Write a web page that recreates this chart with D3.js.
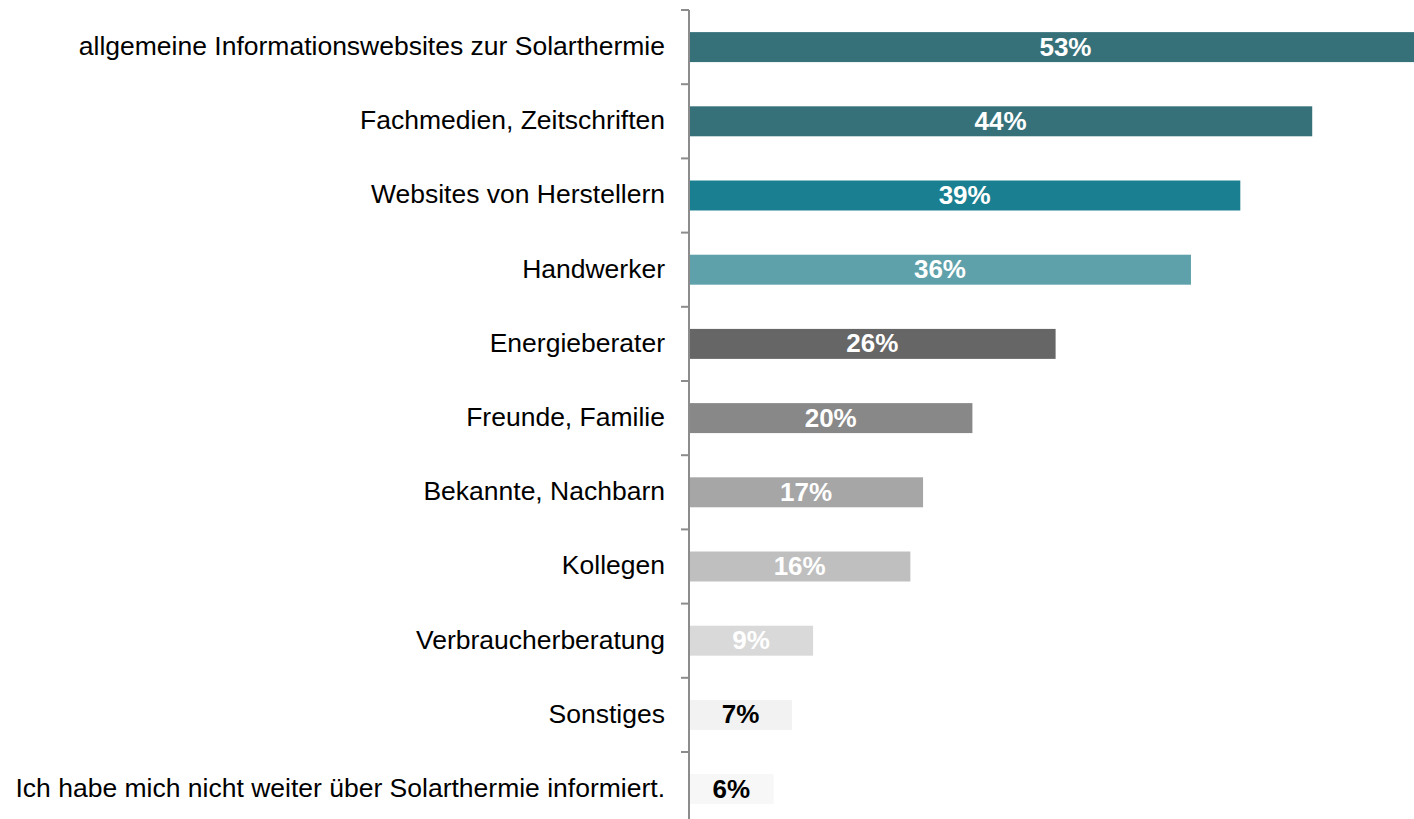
<!DOCTYPE html>
<html>
<head>
<meta charset="utf-8">
<script src="https://cdn.jsdelivr.net/npm/d3@7"></script>
<style>
  body { margin: 0; background: #fff; overflow: hidden; }
</style>
</head>
<body>
<div id="chart"></div>
<script>
// categories, top to bottom
var categories = [
    'allgemeine Informationswebsites zur Solarthermie',
    'Fachmedien, Zeitschriften',
    'Websites von Herstellern',
    'Handwerker',
    'Energieberater',
    'Freunde, Familie',
    'Bekannte, Nachbarn',
    'Kollegen',
    'Verbraucherberatung',
    'Sonstiges',
    'Ich habe mich nicht weiter über Solarthermie informiert.'
];
// share in percent (bar lengths)
var values = [53.4, 44.2, 39.1, 35.6, 26.0, 20.1, 16.6, 15.7, 8.8, 7.3, 6.0];
var colors = ['#36717a', '#36717a', '#1a7f91', '#5fa1aa', '#666666', '#888888',
              '#a6a6a6', '#bfbfbf', '#d9d9d9', '#f2f2f2', '#f7f7f7'];
var labelColors = ['#fff', '#fff', '#fff', '#fff', '#fff', '#fff',
                   '#fff', '#fff', '#fff', '#000', '#000'];

var width = 1414, height = 819;
var margin = {left: 689, top: 10};

var svg = d3.select('#chart').append('svg')
    .attr('width', width)
    .attr('height', height)
    .style('font-family', '"Liberation Sans", Arial, sans-serif');

var x = d3.scaleLinear()
    .domain([0, 1])
    .range([margin.left, margin.left + 14.1]);

var y = d3.scaleBand()
    .domain(categories)
    .range([margin.top, margin.top + 74.2 * categories.length])
    .paddingInner(0.596)
    .paddingOuter(0.298);

var bars = svg.selectAll('.bar')
    .data(categories)
    .enter().append('g')
        .attr('class', 'bar');

bars.append('rect')
    .attr('x', x(0) + 1)
    .attr('y', d => y(d))
    .attr('height', y.bandwidth())
    .attr('width', (d, i) => x(values[i]) - x(0) - 1)
    .style('fill', (d, i) => colors[i]);

bars.append('text')
    .attr('x', (d, i) => (x(0) + x(values[i])) / 2)
    .attr('y', d => y(d) + y.bandwidth() / 2)
    .attr('dy', '0.33em')
    .attr('text-anchor', 'middle')
    .style('font-size', '26px')
    .style('font-weight', 'bold')
    .style('fill', (d, i) => labelColors[i])
    .text((d, i) => d3.format('.0f')(values[i]) + '%');

// category labels
svg.selectAll('.cat')
    .data(categories)
    .enter().append('text')
        .attr('class', 'cat')
        .attr('x', margin.left - 24)
        .attr('y', d => y(d) + y.bandwidth() / 2)
        .attr('dy', '0.3em')
        .attr('text-anchor', 'end')
        .style('font-size', '26.5px')
        .style('fill', '#000')
        .text(d => d);

// axis line with ticks between categories
var axis = svg.append('g')
    .style('stroke', '#8c8c8c')
    .style('stroke-width', 2);

axis.append('line')
    .attr('x1', x(0)).attr('x2', x(0))
    .attr('y1', y.range()[0]).attr('y2', height);

axis.selectAll('.tick')
    .data(d3.range(categories.length))
    .enter().append('line')
        .attr('x1', x(0) - 8).attr('x2', x(0))
        .attr('y1', i => y.range()[0] + i * y.step())
        .attr('y2', i => y.range()[0] + i * y.step());
</script>
</body>
</html>
